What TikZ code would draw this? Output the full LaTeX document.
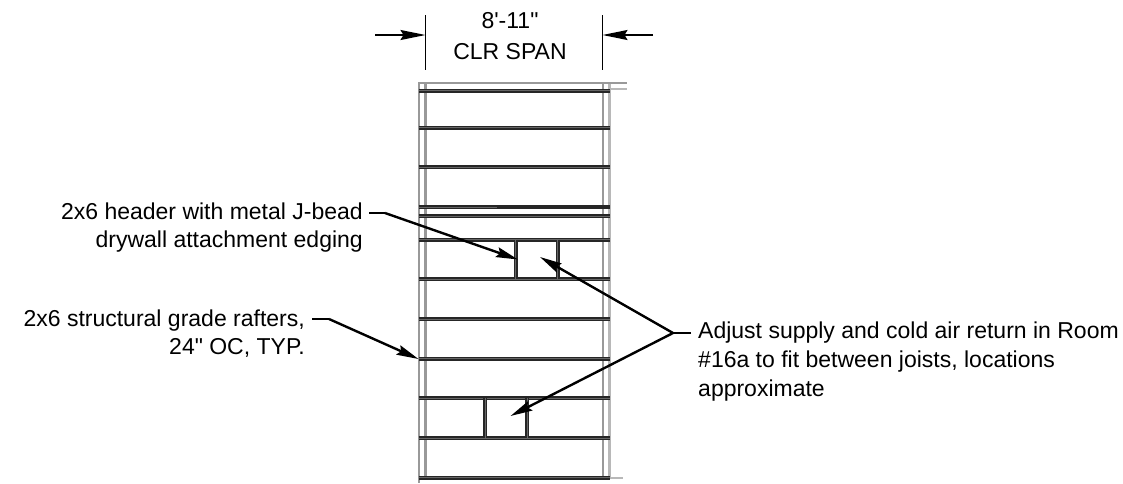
\documentclass[tikz,border=0pt]{standalone}
\usepackage{fontspec}
\setmainfont{Liberation Sans}
\newfontfamily\labfont{Liberation Sans}
\usetikzlibrary{arrows.meta}
\definecolor{wallgray}{gray}{0.6}
\definecolor{walllight}{gray}{0.72}
\tikzset{
 x=1pt,y=-1pt,
 wall/.style={wallgray,line width=2.4pt},
 walledge/.style={walllight,line width=1.4pt},
 beam/.style={line width=4pt,color=black!85},
 beamcore/.style={line width=0.6pt,color=black!60},
 tick/.style={black,line width=1.5pt},
 leader/.style={black,line width=2.4pt},
 tipped/.style={leader,-{Stealth[length=22pt,width=10pt,inset=3pt]}},
 dimarrow/.style={black,line width=1.5pt,-{Stealth[length=25pt,width=10pt,inset=3pt]}},
 lab/.style={font=\labfont\fontsize{23pt}{27pt}\selectfont,inner sep=0pt}
}
\newcommand{\beamh}[1]{\draw[beam] (418.5,#1) -- (610,#1);\draw[beamcore] (418.5,#1) -- (610,#1);}
\newcommand{\beamv}[3]{\draw[beam] (#1,#2) -- (#1,#3);\draw[beamcore] (#1,#2) -- (#1,#3);}
\begin{document}
\begin{tikzpicture}
\useasboundingbox (0,0) rectangle (1123,483);
% walls
\draw[wall] (418.8,83) -- (418.8,483);
\draw[wall] (425.5,83) -- (425.5,478);
\draw[wall] (602.7,83) -- (602.7,478);
\draw[wall,walllight] (609.5,83) -- (609.5,478);
\draw[wall,line width=1.5pt] (418,83) -- (627,83);
\draw[walledge] (610,89) -- (627,89);
\draw[walledge] (610,478) -- (623,478);
% joists
\foreach \yy in {90.7,127.6,167,207,216,239.5,279,319,358.5,398,438,477.5}{\beamh{\yy}}
\draw[beam] (497,207) -- (610,207);
\beamv{515.5}{239.5}{279}
\beamv{557.5}{239.5}{279}
\beamv{485}{398}{438}
\beamv{527}{398}{438}
% dimension
\coordinate (tickLa) at (425.5,15);
\coordinate (tickLb) at (425.5,70);
\coordinate (tickRa) at (602.5,15);
\coordinate (tickRb) at (602.5,70);
\coordinate (arrLs) at (375,35);
\coordinate (arrLe) at (425.5,35);
\coordinate (arrRs) at (653,35);
\coordinate (arrRe) at (602.5,35);
\draw[tick] (tickLa) -- (tickLb);
\draw[tick] (tickRa) -- (tickRb);
\draw[dimarrow] (arrLs) -- (arrLe);
\draw[dimarrow] (arrRs) -- (arrRe);
\node[lab,anchor=base] (dimA) at (510,28) {8'-11"};
\node[lab,anchor=base] (dimB) at (510,59) {CLR SPAN};
% left notes
\node[lab,anchor=base east] (hdrA) at (363,219) {2x6 header with metal J-bead};
\node[lab,anchor=base east] (hdrB) at (363,247) {drywall attachment edging};
\node[lab,anchor=base east] (rftA) at (305,326) {2x6 structural grade rafters,};
\node[lab,anchor=base east] (rftB) at (305,354) {24" OC, TYP.};
% right note
\node[lab,anchor=base west] (adjA) at (698,338) {Adjust supply and cold air return in Room};
\node[lab,anchor=base west] (adjB) at (698,367) {\#16a to fit between joists, locations};
\node[lab,anchor=base west] (adjC) at (698,396) {approximate};
% leaders
\coordinate (hdrStub) at (369,213);
\coordinate (hdrKnee) at (385,213);
\coordinate (hdrTip) at (518,259.5);
\coordinate (rftStub) at (312,319);
\coordinate (rftKnee) at (329,319);
\coordinate (rftTip) at (418.5,359);
\coordinate (adjStub) at (691,333);
\coordinate (adjKnee) at (673,333);
\coordinate (tipA) at (540,257);
\coordinate (tipB) at (510.5,416);
\draw[leader] (hdrStub) -- (hdrKnee);
\draw[tipped] (hdrKnee) -- (hdrTip);
\draw[leader] (rftStub) -- (rftKnee);
\draw[tipped] (rftKnee) -- (rftTip);
\draw[leader] (adjStub) -- (adjKnee);
\draw[tipped] (adjKnee) -- (tipA);
\draw[tipped] (adjKnee) -- (tipB);
\end{tikzpicture}
\end{document}
